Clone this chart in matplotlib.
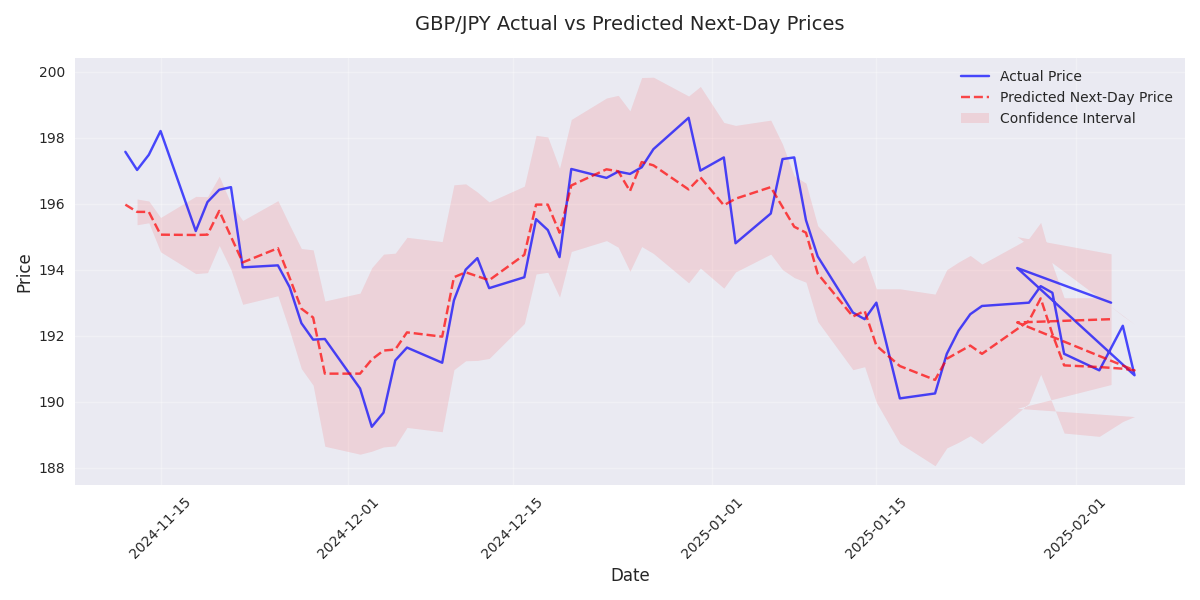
import numpy as np
import pandas as pd
import matplotlib
matplotlib.use("Agg")
import matplotlib.pyplot as plt

plt.style.use("seaborn-v0_8")
plt.rcParams["font.family"] = ["DejaVu Sans"]

# test dates as they come out of the model (last two are appended out of order)
dates = [
    "2024-11-12", "2024-11-13", "2024-11-14", "2024-11-15", "2024-11-18", "2024-11-19",
    "2024-11-20", "2024-11-21", "2024-11-22", "2024-11-25", "2024-11-26", "2024-11-27",
    "2024-11-28", "2024-11-29",
    "2024-12-02", "2024-12-03", "2024-12-04", "2024-12-05", "2024-12-06", "2024-12-09",
    "2024-12-10", "2024-12-11", "2024-12-12", "2024-12-13", "2024-12-16", "2024-12-17",
    "2024-12-18", "2024-12-19", "2024-12-20", "2024-12-23", "2024-12-24", "2024-12-25",
    "2024-12-26", "2024-12-27", "2024-12-30", "2024-12-31",
    "2025-01-02", "2025-01-03", "2025-01-06", "2025-01-07", "2025-01-08", "2025-01-09",
    "2025-01-10", "2025-01-13", "2025-01-14", "2025-01-15", "2025-01-17", "2025-01-20",
    "2025-01-21", "2025-01-22", "2025-01-23", "2025-01-24", "2025-01-28", "2025-01-29",
    "2025-01-30", "2025-01-31",
    "2025-02-03", "2025-02-05", "2025-02-06",
    "2025-01-27", "2025-02-04",
]

actual = [
    197.57, 197.02, 197.48, 198.20, 195.17, 196.05, 196.42, 196.50, 194.07, 194.13,
    193.47, 192.38, 191.88, 191.90,
    190.40, 189.24, 189.67, 191.25, 191.64, 191.18, 193.07, 194.00, 194.35, 193.44,
    193.77, 195.53, 195.20, 194.38, 197.05, 196.78, 196.97, 196.90, 197.10, 197.65,
    198.60, 197.00,
    197.40, 194.80, 195.70, 197.35, 197.40, 195.50, 194.40, 192.70, 192.50, 193.00,
    190.10, 190.25, 191.45, 192.15, 192.65, 192.90, 193.00, 193.50, 193.30, 191.45,
    190.95, 192.30, 190.80,
    194.05, 193.00,
]

predicted = [
    195.97, 195.75, 195.75, 195.06, 195.05, 195.06, 195.78, 195.00, 194.22, 194.65,
    193.75, 192.82, 192.55, 190.85,
    190.85, 191.28, 191.55, 191.58, 192.10, 191.97, 193.77, 193.92, 193.80, 193.68,
    194.45, 195.97, 195.97, 195.12, 196.55, 197.04, 196.98, 196.38, 197.26, 197.16,
    196.43, 196.80,
    195.95, 196.15, 196.50, 195.90, 195.30, 195.12, 193.88, 192.58, 192.75, 191.70,
    191.08, 190.66, 191.30, 191.50, 191.70, 191.45, 192.45, 193.13, 192.05, 191.10,
    191.05, 191.00, 190.95,
    192.40, 192.50,
]

# half width of the band around the prediction (first one missing)
ci_half = [
    np.nan, 0.39, 0.33, 0.52, 1.17, 1.15, 1.05, 1.00, 1.27, 1.44,
    1.60, 1.82, 2.05, 2.20,
    2.44, 2.78, 2.92, 2.92, 2.88, 2.88, 2.80, 2.68, 2.55, 2.37,
    2.08, 2.10, 2.05, 1.95, 2.00, 2.16, 2.30, 2.43, 2.56, 2.67,
    2.83, 2.75,
    2.51, 2.22, 2.03, 1.90, 1.54, 1.50, 1.45, 1.61, 1.69, 1.72,
    2.34, 2.60, 2.70, 2.73, 2.73, 2.72, 2.50, 2.30, 2.10, 2.05,
    2.10, 1.60, 1.40,
    2.60, 1.98,
]

x = pd.to_datetime(dates)
pred = np.array(predicted)
half = np.array(ci_half)

fig, ax = plt.subplots(figsize=(12, 6))
ax.plot(x, actual, "b-", label="Actual Price", alpha=0.7)
ax.plot(x, pred, "r--", label="Predicted Next-Day Price", alpha=0.7)
ax.fill_between(x, pred - half, pred + half, color="red", alpha=0.1,
                linewidth=0, label="Confidence Interval")

ax.set_title("GBP/JPY Actual vs Predicted Next-Day Prices", fontsize=14, pad=20)
ax.set_xlabel("Date", fontsize=12)
ax.set_ylabel("Price", fontsize=12)
ax.legend(fontsize=10)
ax.grid(True, alpha=0.3)
plt.xticks(rotation=45)
plt.tight_layout()
plt.savefig("out.png", dpi=100)
